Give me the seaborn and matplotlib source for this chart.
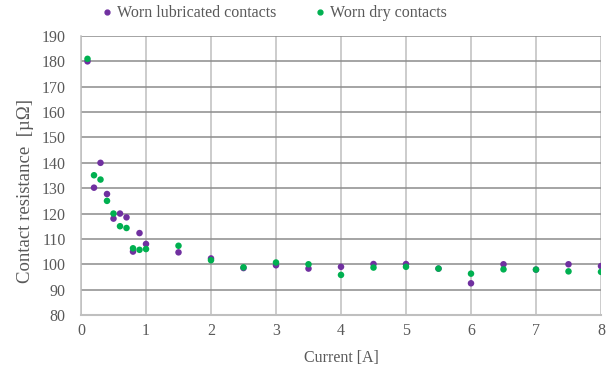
import pandas as pd
import matplotlib
matplotlib.use('Agg')
import matplotlib.pyplot as plt
import seaborn as sns

current = [0.1, 0.2, 0.3, 0.4, 0.5, 0.6, 0.7, 0.8, 0.9, 1.0, 1.5, 2.0, 2.5,
           3.0, 3.5, 4.0, 4.5, 5.0, 5.5, 6.0, 6.5, 7.0, 7.5, 8.0]
lubricated = [180.0, 130.2, 140.0, 127.7, 118.0, 120.0, 118.5, 105.0, 112.3, 108.0, 104.7, 102.3, 98.5,
              99.6, 98.3, 99.0, 100.1, 100.1, 98.3, 92.5, 100.0, 97.9, 100.0, 99.3]
dry = [181.0, 135.1, 133.4, 125.0, 120.0, 115.0, 114.3, 106.3, 105.7, 106.0, 107.3, 101.6, 98.8,
       100.7, 100.0, 95.8, 98.7, 99.0, 98.3, 96.3, 98.0, 97.9, 97.2, 97.0]
series_names = ['Worn lubricated contacts', 'Worn dry contacts']
colors = ['#7030A0', '#00B050']

df = pd.concat([
    pd.DataFrame({'Current': current, 'R': lubricated, 'Serie': series_names[0]}),
    pd.DataFrame({'Current': current, 'R': dry, 'Serie': series_names[1]}),
])

sns.set_style('white')
plt.rcParams['font.family'] = ['Liberation Serif', 'DejaVu Serif']
plt.rcParams['font.size'] = 11

fig, ax = plt.subplots(figsize=(6.08, 3.71), dpi=100)
fig.subplots_adjust(left=81/608, right=601/608, top=1-36/371, bottom=1-315/371)

sns.scatterplot(data=df, x='Current', y='R', hue='Serie', palette=colors,
                s=22, linewidth=0, ax=ax, zorder=3, legend=False)

ax.set_xlim(0, 8)
ax.set_ylim(80, 190)
ax.set_xticks(range(0, 9))
ax.set_yticks(range(80, 191, 10))
ax.grid(axis='x', color='#BFBFBF', linewidth=1.1)
ax.grid(axis='y', color='#8C8C8C', linewidth=1.1)
ax.set_axisbelow(True)
for side in ['top', 'right']:
    ax.spines[side].set_visible(False)
ax.spines['left'].set_color('#BFBFBF')
ax.spines['bottom'].set_color('#BFBFBF')
ax.spines['left'].set_linewidth(1.1)
ax.spines['bottom'].set_linewidth(1.5)
ax.tick_params(axis='y', colors='#595959', length=0, labelsize=11.5, pad=11)
ax.tick_params(axis='x', colors='#595959', length=0, labelsize=11.5, pad=6)

ax.set_xlabel('Current [A]', color='#595959', fontsize=11.5, labelpad=8)
ax.set_ylabel('Contact resistance  [µΩ]', color='#595959', fontsize=13.5)
ax.yaxis.set_label_coords(-0.091, 0.445)

handles = [plt.Line2D([], [], marker='o', linestyle='', color=c, markersize=3.5) for c in colors]
fig.legend(handles, series_names, loc='upper center', bbox_to_anchor=(0.4515, 1.025), ncol=2,
           frameon=False, fontsize=11.5, handlelength=0.6, handletextpad=0.35,
           columnspacing=2.4, labelcolor='#595959')

fig.savefig('out.png', dpi=100)
